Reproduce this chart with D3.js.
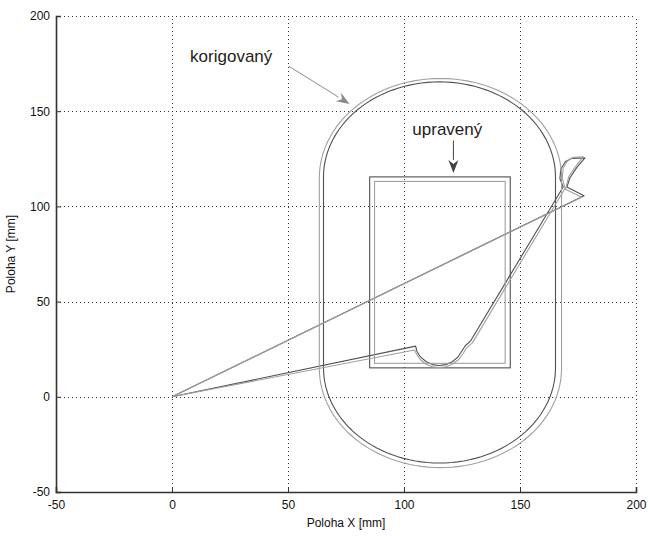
<!DOCTYPE html>
<html>
<head>
<meta charset="utf-8">
<script src="https://cdn.jsdelivr.net/npm/d3@7"></script>
<style>
  body { margin: 0; background: #fff; }
  text { font-family: "Liberation Sans", Arial, sans-serif; }
</style>
</head>
<body>
<svg id="chart" width="648" height="536"></svg>
<script>
// ticks
var xTicks = [-50, 0, 50, 100, 150, 200];
var yTicks = [-50, 0, 50, 100, 150, 200];

// two overlaid versions: dark and light grey
var seriesColors = ["#505050", "#a0a0a0"];

// stadium (korigovaný): centre x, straight part y range, radius
var stadiumCX = [115.3, 115.7];
var stadiumY = [[15.2, 115.4], [15.0, 115.0]];
var stadiumR = [50.0, 52.2];

// rectangle (upravený)
var rectX = [[85.2, 145.8], [87.3, 143.6]];
var rectY = [[15.2, 115.5], [17.6, 113.1]];

// trajectory
var pathDark = [[0, 0], [105, 26.6], [105.6, 23.8], [107.2, 20.8], [109.6, 18.4], [112.2, 16.9], [115, 16.4],
  [118, 16.9], [120.8, 18.4], [123.2, 20.8], [124.8, 23.8], [126.4, 26.8], [128.6, 29.2], [168.6, 110.2],
  [167.2, 114.6], [167.6, 119.6], [169.6, 123.6], [172.2, 125.2], [178, 125.5], [174.6, 120.6],
  [171.6, 115.2], [170.2, 110.2], [177.6, 105.6], [0, 0]];
var pathLight = [[0, 0], [104.6, 24.6], [105.4, 22.4], [107, 19.6], [109.4, 17.2], [112.2, 15.8], [115, 15.3],
  [118, 15.8], [121, 17.2], [123.6, 19.6], [125.4, 22.6], [127, 25.8], [129.4, 28.2], [169.4, 109.4],
  [168.2, 114.8], [168.6, 120.2], [170.6, 124], [173, 125.8], [177.2, 126], [174, 121],
  [171, 115.6], [169.6, 109], [176.6, 104.8], [0, 0]];
var trajectories = [pathDark, pathLight];

// annotations
var labels = [
  { text: "korigovaný", at: [7.8, 176], from: [50.4, 173.6], to: [76.5, 153.8], color: "#8a8a8a" },
  { text: "upravený", at: [103.6, 137.3], from: [121.3, 134.6], to: [121.3, 117.6], color: "#444" }
];

var svg = d3.select("#chart");
var margin = { left: 56, right: 12, top: 16, bottom: 44 };
var W = 648, H = 536;

var x = d3.scaleLinear().domain([-50, 200]).range([margin.left, W - margin.right]);
var y = d3.scaleLinear().domain([-50, 200]).range([H - margin.bottom, margin.top]);

// grid
var grid = svg.append("g").attr("stroke", "#333").attr("stroke-dasharray", "1,3").attr("stroke-width", 1);
grid.selectAll("line.gx").data(xTicks.slice(1)).enter().append("line")
  .attr("x1", function(d) { return Math.round(x(d)) + 0.5; })
  .attr("x2", function(d) { return Math.round(x(d)) + 0.5; })
  .attr("y1", y(-50)).attr("y2", y(200));
grid.selectAll("line.gy").data(yTicks.slice(1)).enter().append("line")
  .attr("y1", function(d) { return Math.round(y(d)) + 0.5; })
  .attr("y2", function(d) { return Math.round(y(d)) + 0.5; })
  .attr("x1", x(-50)).attr("x2", x(200));

// stadium outline from its two half circles
function stadiumPoints(i) {
  var pts = [];
  var cx = stadiumCX[i], r = stadiumR[i];
  var y0 = stadiumY[i][0], y1 = stadiumY[i][1];
  d3.range(0, 181, 3).forEach(function(a) {
    var t = a * Math.PI / 180;
    pts.push([cx + r * Math.cos(t), y1 + r * Math.sin(t)]);
  });
  d3.range(180, 361, 3).forEach(function(a) {
    var t = a * Math.PI / 180;
    pts.push([cx + r * Math.cos(t), y0 + r * Math.sin(t)]);
  });
  pts.push(pts[0]);
  return pts;
}

var line = d3.line().x(function(d) { return x(d[0]); }).y(function(d) { return y(d[1]); });
var plot = svg.append("g").attr("fill", "none").attr("stroke-width", 1.1);

seriesColors.forEach(function(c, i) {
  plot.append("path").attr("d", line(stadiumPoints(i))).attr("stroke", c);
  plot.append("rect")
    .attr("x", x(rectX[i][0])).attr("y", y(rectY[i][1]))
    .attr("width", x(rectX[i][1]) - x(rectX[i][0]))
    .attr("height", y(rectY[i][0]) - y(rectY[i][1]))
    .attr("stroke", c);
  plot.append("path").attr("d", line(trajectories[i])).attr("stroke", c).attr("stroke-linejoin", "round");
});

// axes (left and bottom only, ticks inside)
var fmt = function(d) { return String(d); };
var xAxis = svg.append("g").attr("transform", "translate(0," + y(-50) + ")")
  .call(d3.axisBottom(x).tickValues(xTicks).tickFormat(fmt).tickSize(-5).tickPadding(8));
var yAxis = svg.append("g").attr("transform", "translate(" + x(-50) + ",0)")
  .call(d3.axisLeft(y).tickValues(yTicks).tickFormat(fmt).tickSize(-5).tickPadding(6));
[xAxis, yAxis].forEach(function(a) {
  a.select(".domain").attr("stroke", "#333").attr("stroke-width", 1.6);
  a.selectAll(".tick line").attr("stroke", "#333");
  a.selectAll(".tick text").attr("font-size", 12).attr("fill", "#111")
    .attr("font-family", "'Liberation Sans', Arial, sans-serif");
});

svg.append("text").attr("x", (x(-50) + x(200)) / 2).attr("y", 527)
  .attr("text-anchor", "middle").attr("font-size", 12).attr("fill", "#111").text("Poloha X [mm]");
svg.append("text").attr("transform", "translate(15," + (y(-50) + y(200)) / 2 + ") rotate(-90)")
  .attr("text-anchor", "middle").attr("font-size", 12).attr("fill", "#111").text("Poloha Y [mm]");

// annotation arrows
labels.forEach(function(l) {
  var x0 = x(l.from[0]), y0 = y(l.from[1]), x1 = x(l.to[0]), y1 = y(l.to[1]);
  var ang = Math.atan2(y1 - y0, x1 - x0);
  var len = 13, wid = 5;
  var bx = x1 - len * Math.cos(ang), by = y1 - len * Math.sin(ang);
  svg.append("line").attr("x1", x0).attr("y1", y0).attr("x2", bx).attr("y2", by)
    .attr("stroke", l.color).attr("stroke-width", 1);
  var p1 = [bx + wid * Math.sin(ang), by - wid * Math.cos(ang)];
  var p2 = [bx - wid * Math.sin(ang), by + wid * Math.cos(ang)];
  svg.append("path").attr("d", "M" + x1 + "," + y1 + "L" + p1 + "L" + (x1 - (len - 4) * Math.cos(ang)) + "," + (y1 - (len - 4) * Math.sin(ang)) + "L" + p2 + "Z")
    .attr("fill", l.color).attr("stroke", "none");
  svg.append("text").attr("x", x(l.at[0])).attr("y", y(l.at[1]))
    .attr("font-family", "Lato, 'Open Sans', sans-serif").attr("font-size", 17).attr("fill", "#222")
    .text(l.text);
});
</script>
</body>
</html>
